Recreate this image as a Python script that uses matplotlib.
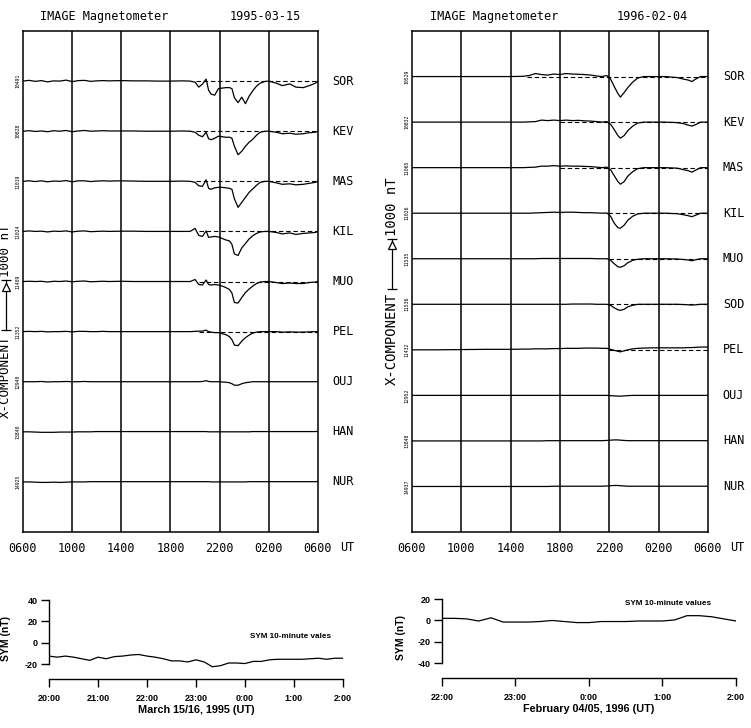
import numpy as np
import matplotlib.pyplot as plt
from matplotlib.transforms import blended_transform_factory

MONO = ['DejaVu Sans Mono', 'DejaVu Sans']
ARIAL = ['Liberation Sans', 'DejaVu Sans']

# ---------------- 1995-03-15 magnetometer chain (hours after 0600 UT, deviations in nT)
t_95 = [0, 0.5, 1, 1.5, 2, 2.5, 3, 3.5, 4, 4.5, 5, 5.5, 6, 6.5,
        7, 8, 9, 10, 11, 12, 13,
        13.6, 14.0, 14.3, 14.6, 14.9, 15.1, 15.3, 15.6, 15.9, 16.2, 16.5, 16.8,
        17.0, 17.2, 17.5, 17.8, 18.1, 18.4, 18.7, 19.0, 19.3, 19.7,
        20.0, 20.6, 21.1, 21.7, 22.2, 22.8, 23.3, 23.8, 24]
sor_95 = [0, 15, -5, 10, -15, 5, 0, 20, -10, 10, 15, -5, 5, 10,
          5, 10, 5, 5, 0, 0, 5,
          0, -20, -120, -60, 40, -180, -260, -280, -150, -140, -130, -130,
          -150, -330, -430, -320, -450, -300, -190, -100, -40, -5,
          0, -40, -90, -55, -120, -130, -90, -40, 0]
kev_95 = [0, 10, -5, 5, -10, 10, 0, 15, -10, 5, 15, 0, 5, 10,
          5, 5, 5, 0, 0, 0, 5,
          0, -20, -80, -110, -20, -150, -170, -140, -100, -110, -120, -120,
          -140, -300, -470, -400, -300, -220, -160, -80, -20, 0,
          0, -20, -50, -40, -60, -50, -30, -20, 0]
mas_95 = [0, 10, -5, 10, -10, 5, 0, 15, -10, 10, 10, -5, 5, 10,
          5, 10, 5, 0, 0, 0, 5,
          0, -20, -90, -100, 30, -140, -160, -130, -120, -120, -130, -140,
          -160, -350, -520, -420, -320, -220, -150, -80, -20, 0,
          0, -30, -60, -50, -70, -60, -40, -20, 0]
kil_95 = [0, 10, 0, 5, -10, 5, 0, 10, -10, 5, 10, -5, 0, 5,
          0, 5, 5, 0, 0, 0, 0,
          0, 60, -80, -100, 10, -120, -110, -100, -110, -140, -170, -190,
          -260, -450, -480, -330, -240, -150, -85, -40, -10, 0,
          0, -20, -50, -30, -60, -40, -30, -20, 0]
muo_95 = [0, 5, 0, 5, -10, 5, 0, 10, -5, 5, 10, -5, 0, 5,
          0, 5, 0, 0, 0, 0, 0,
          0, 40, -60, -70, 30, -60, -70, -60, -70, -90, -120, -160,
          -230, -420, -430, -320, -220, -150, -90, -40, -10, 0,
          0, -20, -40, -30, -40, -40, -20, -10, 0]
pel_95 = [0, 5, 0, 5, -5, 0, 0, 5, -5, 5, 5, 0, 0, 5,
          0, 0, 0, 0, 0, 0, 0,
          0, 5, 10, 10, 30, 0, -10, -20, -20, -40, -60, -100,
          -160, -270, -280, -190, -120, -70, -30, -10, 0, 0,
          0, 0, -10, -5, -10, -10, -5, 0, 0]
ouj_95 = [0, 0, 0, 5, -5, 0, 0, 5, 0, 0, 5, 0, 0, 0,
          0, 0, 0, 0, 0, 0, 0,
          0, 0, 0, 5, 20, 5, 0, 0, 0, -5, -10, -20,
          -40, -70, -70, -40, -20, -10, 0, 0, 0, 0,
          0, 0, 0, 0, 0, 0, 0, 0, 0]
han_95 = [0, 0, -5, -10, -10, -10, -5, -5, -5, 0, 0, 0, 5, 5,
          5, 5, 5, 5, 5, 5, 5,
          5, 5, 5, 5, 5, 0, 0, 0, 0, 0, 0, 0,
          0, 0, 0, 0, 0, 0, 5, 5, 5, 5,
          5, 5, 5, 5, 5, 5, 5, 5, 10]
nur_95 = [0, 0, -5, -10, -10, -5, -10, -5, 0, 0, 0, 5, 5, 5,
          5, 5, 5, 5, 5, 5, 5,
          5, 5, 5, 5, 5, 5, 0, 0, 0, 0, 0, 0,
          0, 0, 0, 0, 0, 5, 5, 5, 5, 5,
          5, 5, 5, 5, 5, 5, 5, 5, 10]
names_95 = ['SOR', 'KEV', 'MAS', 'KIL', 'MUO', 'PEL', 'OUJ', 'HAN', 'NUR']
base_95 = ['10491', '10828', '11019', '11024', '11409', '11352', '12940', '13840', '14925']
dash_95 = [14.1, 14.1, 14.1, 14.3, 14.3, 14.3, None, None, None]

# ---------------- 1996-02-04 magnetometer chain
t_96 = [0, 2, 4, 6, 8,
        9, 9.5, 10, 10.5, 11, 11.5, 12, 12.5, 13, 13.5, 14, 14.5, 15,
        15.4, 15.8, 16.1, 16.4, 16.7, 16.9, 17.2, 17.5, 17.9, 18.3, 18.8, 19.5,
        20.5, 21.5, 22.0, 22.4, 22.7, 23.0, 23.4, 24]
sor_96 = [0, 0, 0, 0, 0,
          5, 20, 60, 40, 30, 50, 40, 60, 50, 45, 40, 30, 10,
          0, 20, -50, -200, -340, -410, -320, -220, -110, -30, 0, 0,
          0, -20, -50, -70, -100, -50, 0, 0]
kev_96 = [0, 0, 0, 0, 0,
          0, 5, 10, 40, 30, 40, 30, 40, 30, 35, 25, 20, 10,
          0, 10, -40, -150, -270, -320, -270, -170, -80, -20, 0, 0,
          0, -10, -30, -60, -80, -50, 0, 0]
mas_96 = [0, 0, 0, 0, 0,
          0, 5, 10, 30, 30, 40, 30, 35, 30, 30, 25, 20, 10,
          0, 10, -40, -160, -280, -330, -280, -170, -80, -20, 0, 0,
          0, -10, -40, -60, -90, -50, 0, 0]
kil_96 = [0, 0, 0, 0, 0,
          0, 0, 5, 10, 15, 20, 15, 20, 20, 15, 10, 10, 5,
          0, 5, -60, -200, -290, -300, -240, -140, -60, -15, 0, 0,
          0, -10, -30, -50, -70, -40, 0, 0]
muo_96 = [0, 0, 0, 0, 0,
          0, 0, 0, 5, 5, 5, 5, 5, 5, 5, 5, 5, 0,
          0, 0, -30, -100, -160, -170, -140, -80, -30, -10, 0, 0,
          0, -5, -15, -25, -40, -20, 0, 0]
sod_96 = [0, 0, 0, 0, 0,
          0, 0, 0, 0, 0, 0, 0, 0, 5, 5, 5, 5, 0,
          0, 0, -20, -70, -110, -120, -100, -50, -20, 0, 0, 0,
          0, 0, -5, -10, -15, -10, 0, 0]
pel_96 = [0, 0, 5, 10, 10,
          15, 15, 20, 20, 20, 25, 25, 30, 30, 30, 35, 35, 35,
          30, 30, 10, -10, -30, -40, -20, 0, 20, 30, 35, 40,
          40, 40, 40, 45, 45, 50, 55, 55]
ouj_96 = [0, 0, 0, 0, 0,
          0, 0, 0, 0, 0, 0, 0, 0, 0, 0, 0, 0, 0,
          0, 0, -5, -10, -15, -15, -10, -5, 0, 0, 0, 0,
          0, 0, 0, 0, 0, 0, 0, 0]
han_96 = [0, 0, 0, 0, 0,
          0, 0, 0, 0, 5, 5, 5, 5, 5, 5, 5, 5, 5,
          5, 10, 15, 20, 20, 15, 10, 5, 5, 5, 5, 5,
          5, 5, 5, 5, 5, 5, 5, 5]
nur_96 = [0, 0, 0, 0, 0,
          0, 0, 0, 0, 0, 5, 5, 5, 5, 5, 5, 5, 5,
          5, 10, 15, 20, 20, 15, 10, 5, 5, 5, 5, 5,
          5, 5, 5, 5, 5, 5, 5, 5]
names_96 = ['SOR', 'KEV', 'MAS', 'KIL', 'MUO', 'SOD', 'PEL', 'OUJ', 'HAN', 'NUR']
base_96 = ['10529', '10832', '11065', '11026', '11535', '11536', '11432', '12952', '13848', '14937']
dash_96 = [9.3, 12.0, 12.0, 15.9, 16.0, 16.0, 16.0, None, None, None]

hour_labels = ['0600', '1000', '1400', '1800', '2200', '0200', '0600']

# ---------------- SYM-H 10-minute values
sym_95 = [-12.5, -13.5, -12.5, -13.5, -15, -16.5, -13.5, -15, -13, -12.5, -11.5, -11,
          -12.5, -13.5, -15, -17, -17, -18, -16, -18, -22.5, -21.5, -19, -19, -19.5,
          -17.5, -17.5, -16, -15.5, -15.5, -15.5, -15.5, -15, -14.5, -15.5, -14.5, -14.5]
sym_96 = [2, 2, 1.5, -0.5, 2.5, -1.5, -1.5, -1.5, -1, 0, -1, -2, -2, -1, -1, -1,
          -0.5, -0.5, -0.5, 0.5, 4.5, 4.5, 3.5, 1.5, -0.5]
sym_ticks_95 = ['20:00', '21:00', '22:00', '23:00', '0:00', '1:00', '2:00']
sym_ticks_96 = ['22:00', '23:00', '0:00', '1:00', '2:00']


def mag_panel(ax, t, traces, names, bases, dash_from, scale, date,
              arrow_y0, xcomp_top, lab_x, lab_size, date_x, title_x):
    n = len(names)
    ax.set_xlim(0, 24)
    ax.set_ylim(0, n + 1)
    for s in ax.spines.values():
        s.set_linewidth(1.1)
    for x in range(4, 24, 4):
        ax.axvline(x, color='k', lw=1.1)
    tr = blended_transform_factory(ax.transAxes, ax.transData)
    for i in range(n):
        y0 = n - i
        ax.plot(t, y0 + np.array(traces[i]) * scale, color='k', lw=0.9)
        if dash_from[i] is not None:
            ax.plot([dash_from[i], 24], [y0, y0], color='k', lw=0.8,
                    dashes=(4, 2.5))
        ax.text(1.05, y0, names[i], transform=tr, ha='left', va='center',
                fontsize=8.5, family=MONO)
        ax.text(-0.016, y0, bases[i], transform=tr, ha='center', va='center',
                rotation=90, fontsize=3.5, family=MONO)
    ax.set_xticks(range(0, 25, 4))
    ax.set_xticklabels(hour_labels, family=MONO, fontsize=8.5)
    ax.set_yticks([])
    ax.tick_params(axis='x', length=0, pad=7)
    ax.text(1.075, -0.03, 'UT', transform=ax.transAxes, ha='left', va='center',
            fontsize=8.5, family=MONO)
    ax.text(title_x, 1.028, 'IMAGE Magnetometer', transform=ax.transAxes,
            ha='left', va='center', fontsize=8.5, family=MONO)
    ax.text(date_x, 1.028, date, transform=ax.transAxes,
            ha='left', va='center', fontsize=8.5, family=MONO)
    # y label with 1000 nT scale arrow
    a1 = arrow_y0 + 1000 * scale
    ax.plot([lab_x, lab_x], [arrow_y0, a1], color='k', lw=0.9, transform=tr,
            clip_on=False)
    ax.plot([lab_x, lab_x], [arrow_y0, a1], ls='none', marker='_', ms=7,
            mew=0.9, color='k', transform=tr, clip_on=False)
    ax.plot([lab_x], [a1 - 0.13], ls='none', marker='^', ms=6, mew=0.9,
            mfc='white', mec='k', transform=tr, clip_on=False)
    ax.text(lab_x, xcomp_top, 'X-COMPONENT', transform=tr, rotation=90,
            ha='center', va='top', fontsize=lab_size, family=MONO)
    ax.text(lab_x, a1 + 0.07, '1000 nT', transform=tr, rotation=90,
            ha='center', va='bottom', fontsize=lab_size, family=MONO)


def sym_panel(ax, values, start, ticks, ylim, yticks, xlabel, note, note_xy,
              ylabelpad):
    x = start + np.arange(len(values)) / 6.0
    ax.plot(x, values, color='k', lw=0.9)
    ax.set_xlim(start, start + len(ticks) - 1)
    ax.set_ylim(*ylim)
    for side in ['top', 'right']:
        ax.spines[side].set_visible(False)
    ax.spines['left'].set_bounds(yticks[-1], yticks[0])
    ax.spines['left'].set_linewidth(1.0)
    ax.spines['bottom'].set_linewidth(1.0)
    ax.set_yticks(yticks)
    ax.set_yticklabels([str(v) for v in yticks], fontsize=6.5,
                       fontweight='bold', family=ARIAL)
    ax.set_xticks(np.arange(start, start + len(ticks)))
    ax.set_xticklabels(ticks, fontsize=6.5, fontweight='bold', family=ARIAL)
    ax.tick_params(direction='out', length=6, width=1.0, pad=2)
    ax.tick_params(axis='x', pad=5)
    ax.set_xlabel(xlabel, fontsize=7.8, fontweight='bold', family=ARIAL,
                  labelpad=1)
    ax.set_ylabel('SYM (nT)', fontsize=7.5, fontweight='bold', family=ARIAL,
                  labelpad=ylabelpad)
    ax.text(note_xy[0], note_xy[1], note, fontsize=5.9, fontweight='bold',
            family=ARIAL, ha='left', va='center')


fig = plt.figure(figsize=(7.51, 7.28), dpi=100)

ax1 = fig.add_axes([0.0306, 0.2692, 0.3928, 0.6882])
mag_panel(ax1, t_95,
          [sor_95, kev_95, mas_95, kil_95, muo_95, pel_95, ouj_95, han_95, nur_95],
          names_95, base_95, dash_95, 1 / 1000, '1995-03-15',
          arrow_y0=4.03, xcomp_top=3.93, lab_x=-0.058, lab_size=9,
          date_x=0.70, title_x=0.058)

ax2 = fig.add_axes([0.5486, 0.2692, 0.3941, 0.6882])
mag_panel(ax2, t_96,
          [sor_96, kev_96, mas_96, kil_96, muo_96, sod_96, pel_96, ouj_96, han_96, nur_96],
          names_96, base_96, dash_96, 1.1 / 1000, '1996-02-04',
          arrow_y0=5.34, xcomp_top=5.25, lab_x=-0.068, lab_size=10,
          date_x=0.693, title_x=0.061)

ax3 = fig.add_axes([0.0652, 0.0673, 0.3915, 0.1113])
sym_panel(ax3, sym_95, 20, sym_ticks_95, (-34, 42), [40, 20, 0, -20],
          'March 15/16, 1995 (UT)', 'SYM 10-minute vales', (24.1, 6), 10)

ax4 = fig.add_axes([0.5885, 0.0687, 0.3915, 0.1112])
sym_panel(ax4, sym_96, 22, sym_ticks_96, (-54, 22), [20, 0, -20, -40],
          'February 04/05, 1996 (UT)', 'SYM 10-minute values', (24.49, 16), 8.5)

fig.savefig('out.png', dpi=100)
plt.close(fig)
